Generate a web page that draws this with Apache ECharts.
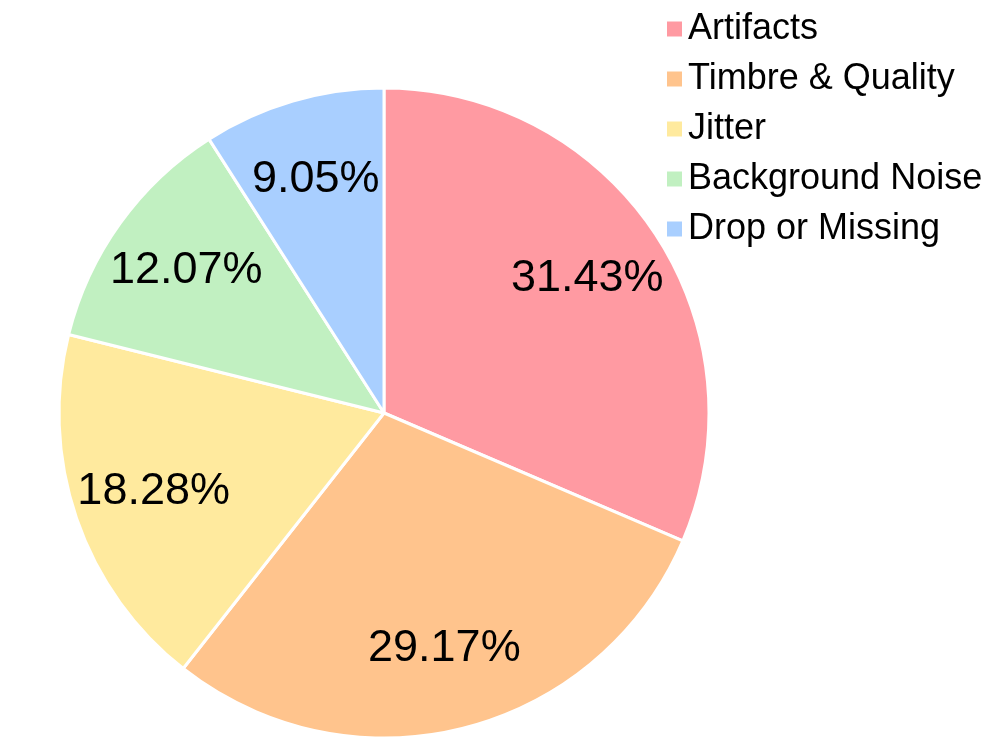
<!DOCTYPE html>
<html>
<head>
<meta charset="utf-8">
<script src="https://cdn.jsdelivr.net/npm/echarts@6/dist/echarts.min.js"></script>
<style>
    html, body { margin: 0; padding: 0; background: #fff; }
    #chart { width: 996px; height: 748px; }
</style>
</head>
<body>
<div id="chart"></div>
<script>
    // 数据
    const categories = ['Artifacts', 'Timbre & Quality', 'Jitter', 'Background Noise', 'Drop or Missing']
    const shares = [31.43, 29.17, 18.28, 12.07, 9.05]
    const colors = ['#FF9AA2', '#FFC48D', '#FFEA9E', '#C1F0C1', '#A9CFFF']

    const font = '"Liberation Sans", Arial, sans-serif'
    const center = [384, 413]
    const R = 325

    const data = categories.map((name, i) => ({ name, value: shares[i] }))

    const chart = echarts.init(document.getElementById('chart'))
    chart.setOption({
        animation: false,
        color: colors,
        legend: {
            orient: 'vertical',
            left: 662,
            top: 6,
            itemWidth: 15,
            itemHeight: 15,
            itemGap: 14,
            itemStyle: { borderWidth: 0 },
            icon: 'rect',
            textStyle: { fontFamily: font, fontSize: 36, lineHeight: 36, color: '#000', padding: [0, 0, 0, 1] },
            data: categories
        },
        series: [
            {
                type: 'pie',
                center,
                radius: [0, R],
                startAngle: 90,
                clockwise: true,
                silent: true,
                itemStyle: { borderColor: '#fff', borderWidth: 3 },
                label: { show: false },
                labelLine: { show: false },
                data
            },
            {
                // 只用来放百分比标签，让它们落在约 0.74 半径处
                type: 'pie',
                center,
                radius: [R * 0.48, R],
                startAngle: 90,
                clockwise: true,
                silent: true,
                itemStyle: { color: 'rgba(0,0,0,0)', borderWidth: 0 },
                label: {
                    show: true,
                    position: 'inside',
                    fontFamily: font,
                    fontSize: 45,
                    color: '#000',
                    formatter: p => p.value.toFixed(2) + '%'
                },
                labelLine: { show: false },
                data
            }
        ]
    })
</script>
</body>
</html>
